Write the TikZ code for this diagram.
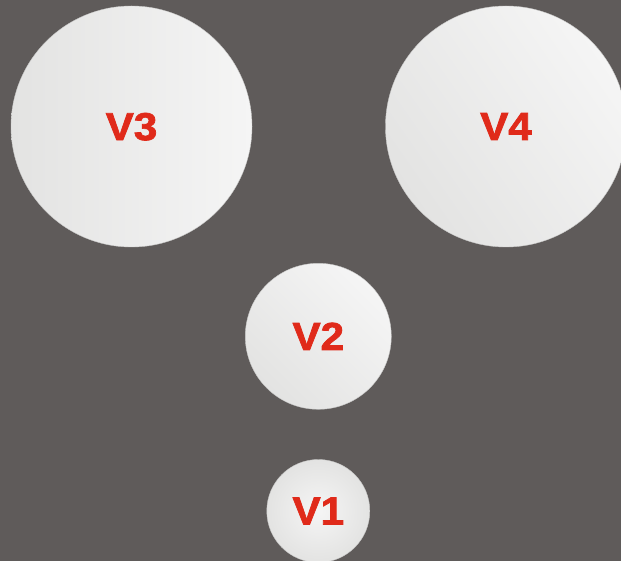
\documentclass[tikz,border=0pt]{standalone}
\usepackage{fontspec}
\newfontfamily\labfont[FakeBold=1.8]{Liberation Sans Bold}
\definecolor{bg}{HTML}{5F5B5A}
\definecolor{lab}{HTML}{E02A1A}
\definecolor{balllo}{HTML}{E3E3E2}
\definecolor{ballhi}{HTML}{F5F5F5}
\definecolor{ballrim}{HTML}{C8C8C7}
\tikzset{
  ball/.style={circle, inner sep=0pt, draw=ballrim, line width=0.4pt},
  lbl/.style={font=\labfont\fontsize{39}{39}\selectfont, text=lab, text depth=0pt, inner sep=0pt, xscale=1.08}
}
\begin{document}
\begin{tikzpicture}[x=1pt,y=-1pt]
\fill[bg] (0,0) rectangle (621,561);
\useasboundingbox (0,0) rectangle (621,561);
% balls
\node[ball, minimum size=241pt, left color=balllo, right color=ballhi] (b3) at (131.5,126.5) {};
\node[ball, minimum size=241pt, top color=ballhi, bottom color=balllo, shading angle=-55] (b4) at (506,126.5) {};
\node[ball, minimum size=146pt, top color=ballhi, bottom color=balllo, shading angle=-45] (b2) at (318.3,336.3) {};
\node[ball, minimum size=103pt, inner color=ballhi, outer color=balllo] (b1) at (318.3,511) {};
% labels
\node[lbl] (t3) at (b3.center) {V3};
\node[lbl] (t4) at (b4.center) {V4};
\node[lbl] (t2) at (b2.center) {V2};
\node[lbl] (t1) at (b1.center) {V1};
\end{tikzpicture}
\end{document}
